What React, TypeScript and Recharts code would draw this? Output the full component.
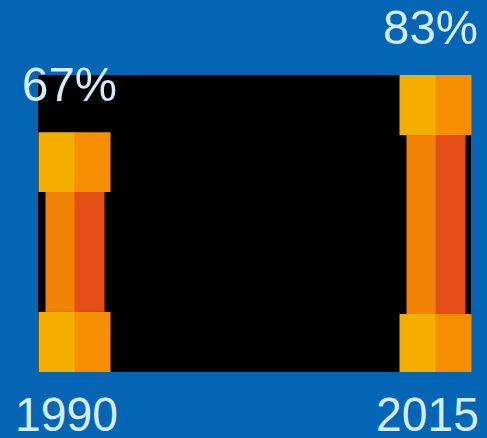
import { Bar, BarChart, CartesianGrid, LabelList, XAxis, YAxis } from "recharts";

const YEARS = ["1990", "2015"];
const TOTALS = [67, 83];
const BASE_CAP = [16.8, 16.2];
const MIDDLE = [33.5, 50];
const TOP_CAP = [16.7, 16.8];

const chartData = YEARS.map((year, i) => ({
  year,
  total: TOTALS[i],
  baseCap: BASE_CAP[i],
  middle: MIDDLE[i],
  topCap: TOP_CAP[i],
}));

const BLUE = "#0565b5";
const TEXT = "#d5ecfb";
const SOFT = { filter: "blur(0.5px)" };

// left halves run a little under the right ones so no seam shows
const CapLeft = ({ x, y, width, height, fill }: any) => (
  <rect x={x} y={y} width={width + 1} height={height} fill={fill} style={SOFT} />
);
const CapRight = ({ x, y, width, height, fill }: any) => (
  <rect x={x} y={y} width={width} height={height} fill={fill} style={SOFT} />
);

// the shaft sits narrower than the caps, inset on its outer side
const ShaftLeft = ({ x, y, width, height, fill }: any) => (
  <rect x={x + 7} y={y} width={width - 6} height={height} fill={fill} style={SOFT} />
);
const ShaftRight = ({ x, y, width, height, fill }: any) => (
  <rect x={x} y={y} width={width - 6} height={height} fill={fill} style={SOFT} />
);

// reference text is a bit taller than it is wide, hence textLength
const PercentLabel = ({ x, y, width, value }: any) => (
  <text
    x={x + width - 5}
    y={y - 31}
    fill={TEXT}
    fontSize={49}
    fontFamily="Liberation Sans"
    textAnchor="middle"
    textLength={95}
    lengthAdjust="spacingAndGlyphs"
  >
    {`${value}%`}
  </text>
);

const YearTick = ({ x, y, payload }: any) => (
  <text
    x={x - 7.5}
    y={y + 51}
    fill={TEXT}
    fontSize={49}
    fontFamily="Liberation Sans"
    textAnchor="middle"
    textLength={103}
    lengthAdjust="spacingAndGlyphs"
  >
    {payload.value}
  </text>
);

export default function App() {
  return (
    <div style={{ position: "absolute", left: 0, top: 0, background: BLUE }}>
      <BarChart
        width={487}
        height={438}
        data={chartData}
        barSize={36}
        barGap={0}
        margin={{ top: 75, left: 38, right: 16, bottom: 0 }}
      >
        <CartesianGrid fill="#000000" horizontal={false} vertical={false} />
        <XAxis
          dataKey="year"
          scale="point"
          padding={{ left: 36, right: 36 }}
          height={66}
          axisLine={false}
          tickLine={false}
          interval={0}
          tick={YearTick}
        />
        <YAxis hide domain={[0, 83]} />
        <Bar dataKey="baseCap" stackId="left" fill="#f3ae00" shape={CapLeft} isAnimationActive={false} />
        <Bar dataKey="middle" stackId="left" fill="#f08205" shape={ShaftLeft} isAnimationActive={false} />
        <Bar dataKey="topCap" stackId="left" fill="#f3ae00" shape={CapLeft} isAnimationActive={false}>
          <LabelList dataKey="total" content={PercentLabel} />
        </Bar>
        <Bar dataKey="baseCap" stackId="right" fill="#f58f00" shape={CapRight} isAnimationActive={false} />
        <Bar dataKey="middle" stackId="right" fill="#e64e18" shape={ShaftRight} isAnimationActive={false} />
        <Bar dataKey="topCap" stackId="right" fill="#f58f00" shape={CapRight} isAnimationActive={false} />
      </BarChart>
    </div>
  );
}
